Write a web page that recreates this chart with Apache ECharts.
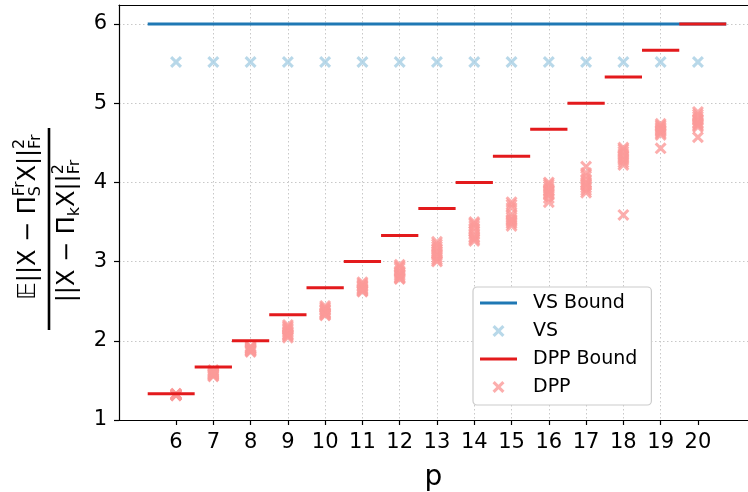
<!DOCTYPE html>
<html>
<head>
<meta charset="utf-8">
<script src="https://cdn.jsdelivr.net/npm/echarts@6/dist/echarts.min.js"></script>
<style>html,body{margin:0;padding:0;background:#fff;overflow:hidden}#c{width:748px;height:492px}</style>
</head>
<body>
<div id="c"></div>
<script>
// ---- data ----
const pValues = [6, 7, 8, 9, 10, 11, 12, 13, 14, 15, 16, 17, 18, 19, 20];
const vsBound = [6, 6, 6, 6, 6, 6, 6, 6, 6, 6, 6, 6, 6, 6, 6];
const vsValues = [5.52, 5.52, 5.52, 5.52, 5.52, 5.52, 5.52, 5.52, 5.52, 5.52, 5.52, 5.52, 5.52, 5.52, 5.52];
const dppBound = [1.33, 1.67, 2.0, 2.33, 2.67, 3.0, 3.33, 3.67, 4.0, 4.33, 4.67, 5.0, 5.33, 5.67, 6.0];
const dppValues = [
  [1.31, 1.32, 1.32, 1.33, 1.32, 1.31, 1.33, 1.32, 1.32, 1.32],
  [1.55, 1.57, 1.58, 1.60, 1.62, 1.63, 1.56, 1.59, 1.61, 1.58],
  [1.86, 1.88, 1.90, 1.92, 1.93, 1.89, 1.87, 1.91, 1.90, 1.88],
  [2.04, 2.06, 2.08, 2.10, 2.12, 2.14, 2.16, 2.18, 2.20, 2.07],
  [2.32, 2.34, 2.36, 2.38, 2.40, 2.42, 2.44, 2.35, 2.39, 2.33],
  [2.62, 2.64, 2.66, 2.68, 2.70, 2.72, 2.74, 2.65, 2.69, 2.63],
  [2.78, 2.80, 2.82, 2.84, 2.86, 2.88, 2.92, 2.94, 2.96, 2.79],
  [3.00, 3.02, 3.05, 3.08, 3.10, 3.13, 3.16, 3.19, 3.22, 3.25],
  [3.26, 3.28, 3.31, 3.34, 3.38, 3.42, 3.45, 3.48, 3.50, 3.30],
  [3.45, 3.48, 3.50, 3.53, 3.56, 3.60, 3.68, 3.72, 3.75, 3.52],
  [3.75, 3.80, 3.84, 3.88, 3.92, 3.95, 3.98, 4.00, 3.90, 3.86],
  [3.87, 3.90, 3.93, 3.96, 4.00, 4.04, 4.08, 4.12, 4.20, 3.98],
  [4.22, 4.25, 4.28, 4.30, 4.33, 4.36, 4.39, 4.42, 4.44, 3.59],
  [4.60, 4.62, 4.64, 4.66, 4.68, 4.70, 4.72, 4.74, 4.43, 4.66],
  [4.70, 4.72, 4.75, 4.78, 4.80, 4.83, 4.86, 4.89, 4.57, 4.74]
];
const yTicks = [1, 2, 3, 4, 5, 6];

// ---- build series data ----
const HALF = 0.5, EDGE = 0.76;
function segments(vals) {
  const out = [];
  pValues.forEach((p, i) => {
    const a = i === 0 ? p - EDGE : p - HALF;
    const b = i === pValues.length - 1 ? p + EDGE : p + HALF;
    out.push([a, vals[i]], [b, vals[i]], [p, '-']);
  });
  return out;
}
const vsPts = pValues.map((p, i) => [p, vsValues[i]]);
const dppPts = [];
pValues.forEach((p, i) => dppValues[i].forEach(v => dppPts.push([p, v])));

const XSYM = 'path://M0,1.8L1.8,0L5,3.2L8.2,0L10,1.8L6.8,5L10,8.2L8.2,10L5,6.8L1.8,10L0,8.2L3.2,5Z';
const LSYM = 'path://M0,0H37V3H0Z';
const FONT = '"DejaVu Sans", sans-serif';

// ---- y-axis label (fraction) ----
const ctx = document.createElement('canvas').getContext('2d');
function tw(t, s) { ctx.font = s + 'px "DejaVu Sans"'; return ctx.measureText(t).width; }
function buildLine(parts, cy, shift) {
  let total = 0;
  parts.forEach(p => {
    if (p.stack) p.w = Math.max(...p.stack.map(q => tw(q.t, q.s)));
    else p.w = tw(p.t, p.s);
    total += p.w;
  });
  let x = -total / 2 + shift;
  const els = [];
  parts.forEach(p => {
    const list = p.stack ? p.stack : [p];
    list.forEach(q => els.push({
      type: 'text', x: x, y: cy + (q.dy || 0),
      style: { text: q.t, fontSize: q.s, fontFamily: FONT, fill: '#000', align: 'left', verticalAlign: 'middle' }
    }));
    x += p.w;
  });
  return els;
}
const BIG = 24, SM = 16;
const numer = buildLine([
  { t: '𝔼||X − Π', s: BIG },
  { stack: [{ t: 'Fr', s: SM, dy: -9 }, { t: 'S', s: SM, dy: 7 }] },
  { t: 'X||', s: BIG },
  { stack: [{ t: '2', s: SM, dy: -9 }, { t: 'Fr', s: SM, dy: 7 }] }
], -20, 12);
const denom = buildLine([
  { t: '||X − Π', s: BIG },
  { t: 'k', s: SM, dy: 7 },
  { t: 'X||', s: BIG },
  { stack: [{ t: '2', s: SM, dy: -9 }, { t: 'Fr', s: SM, dy: 7 }] }
], 19, -2);

const XMIN = 4.47, XMAX = 21.88;
const chart = echarts.init(document.getElementById('c'), null, { renderer: 'canvas' });
const gridLine = { show: true, showMinLine: false, showMaxLine: false,
  lineStyle: { color: '#c8c8c8', type: [1.5, 2.5], width: 1 } };
chart.setOption({
  animation: false,
  backgroundColor: '#fff',
  grid: { left: 119, right: -20, top: 5, bottom: 72, containLabel: false, outerBoundsMode: 'none' },
  xAxis: [{
    type: 'value', min: XMIN, max: XMAX,
    name: 'p', nameLocation: 'middle', nameGap: 44,
    nameTextStyle: { fontSize: 28, color: '#000', fontFamily: FONT, padding: [0, 20, 0, 0] },
    axisLine: { show: true, onZero: false, lineStyle: { color: '#000', width: 1.2 } },
    axisTick: { show: true, customValues: pValues, length: 5, lineStyle: { color: '#000', width: 1.2 } },
    axisLabel: { customValues: pValues, fontSize: 21, color: '#000', fontFamily: FONT, margin: 12 },
    splitLine: gridLine
  }, {
    type: 'value', position: 'top', min: XMIN, max: XMAX,
    axisLine: { show: true, onZero: false, lineStyle: { color: '#000', width: 1.2 } },
    axisTick: { show: false }, axisLabel: { show: false }, splitLine: { show: false }
  }],
  yAxis: {
    type: 'value', min: 1, max: 6.24, interval: 1,
    axisLine: { show: true, onZero: false, lineStyle: { color: '#000', width: 1.2 } },
    axisTick: { show: true, length: 5, lineStyle: { color: '#000', width: 1.2 } },
    axisLabel: { fontSize: 21, color: '#000', fontFamily: FONT, margin: 12, showMaxLabel: false,
      formatter: v => (yTicks.indexOf(v) >= 0 ? String(v) : '') },
    splitLine: gridLine
  },
  legend: {
    orient: 'vertical', left: 473, top: 287,
    backgroundColor: '#fff', borderColor: '#cccccc', borderWidth: 1.2, borderRadius: 4,
    padding: [6, 14, 8, 7], itemGap: 8, itemWidth: 37, itemHeight: 12,
    textStyle: { fontSize: 19, color: '#000', fontFamily: FONT, lineHeight: 20, padding: [0, 0, 0, 11] },
    data: [
      { name: 'VS Bound', icon: LSYM },
      { name: 'VS', icon: XSYM },
      { name: 'DPP Bound', icon: LSYM },
      { name: 'DPP', icon: XSYM }
    ]
  },
  series: [
    { name: 'VS Bound', type: 'line', data: segments(vsBound), showSymbol: false, symbol: 'none',
      lineStyle: { color: '#1f78b4', width: 3 }, itemStyle: { color: '#1f78b4' }, z: 2 },
    { name: 'VS', type: 'scatter', data: vsPts, symbol: XSYM, symbolSize: 12,
      itemStyle: { color: '#a6cee3' }, z: 3 },
    { name: 'DPP Bound', type: 'line', data: segments(dppBound), showSymbol: false, symbol: 'none',
      lineStyle: { color: '#e31a1c', width: 3 }, itemStyle: { color: '#e31a1c' }, z: 5 },
    { name: 'DPP', type: 'scatter', data: dppPts, symbol: XSYM, symbolSize: 12,
      itemStyle: { color: '#fb9a99' }, z: 4 }
  ],
  graphic: [{
    type: 'group', x: 49, y: 229, rotation: Math.PI / 2,
    children: [
      { type: 'line', shape: { x1: -101, y1: 0, x2: 101, y2: 0 }, style: { stroke: '#000', lineWidth: 2.6 } }
    ].concat(numer, denom)
  }]
});
</script>
</body>
</html>
